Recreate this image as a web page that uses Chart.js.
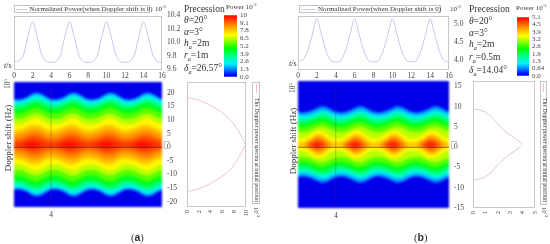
<!DOCTYPE html>
<html><head><meta charset="utf-8">
<script src="https://cdn.jsdelivr.net/npm/chart.js@4"></script>
<style>
html,body{margin:0;padding:0;background:#fff;width:550px;height:244px;overflow:hidden}
#stage{position:absolute;left:0;top:0;width:550px;height:244px;font-family:"Liberation Serif",serif;color:#333;filter:blur(.4px)}
canvas{position:absolute}
.t{position:absolute;white-space:nowrap;line-height:1}
.box{position:absolute;border:1px solid #c4c4c4;box-sizing:border-box}
.samp{position:absolute;height:1px}
sup,sub{font-size:65%;line-height:0}
i{font-style:italic}
</style></head><body><div id="stage"></div>
<script>
// ---------- data ----------
const timeTicks=[0,2,4,6,8,10,12,14,16];
const timeSamples=[0,.5,1,1.5,2,2.5,3,3.5,4,4.5,5,5.5,6,6.5,7,7.5,8,8.5,9,9.5,10,10.5,11,11.5,12,12.5,13,13.5,14,14.5,15,15.5,16];
const powerTimeA=[9.71,9.72,9.80,10.09,10.31,10.09,9.81,9.71,9.70,9.71,9.80,10.09,10.31,10.09,9.81,9.71,9.70,9.71,9.80,10.09,10.31,10.09,9.81,9.71,9.70,9.71,9.80,10.09,10.31,10.09,9.81,9.71,9.70];
const powerTimeB=[3.98,4.00,4.24,4.70,5.16,4.70,4.24,3.98,3.95,3.97,4.24,4.70,5.16,4.70,4.24,3.98,3.95,3.97,4.24,4.70,5.16,4.70,4.24,3.98,3.95,3.97,4.24,4.70,5.16,4.70,4.24,3.98,3.96];
const levels=[0.4,1.2,2,3,4,5,6,6.8,7.6,8.2,8.8,9.3,9.7,10];
const bandA04=[16.2,16.1,16.4,17.2,18.1,18.5,18.0,17.1,16.2,16.1,16.4,17.2,18.1,18.5,18.0,17.1,16.2,16.1,16.4,17.2,18.1,18.5,18.0,17.1,16.2,16.1,16.4,17.2,18.1,18.5,18.0,17.1,16.2];
const bandA12=[15.8,15.7,16.0,16.7,17.7,18.0,17.5,16.6,15.8,15.7,16.0,16.7,17.7,18.0,17.5,16.6,15.8,15.7,16.0,16.7,17.7,18.0,17.5,16.6,15.8,15.7,16.0,16.7,17.7,18.0,17.5,16.6,15.8];
const bandA20=[15.3,15.2,15.5,16.1,17.0,17.3,16.9,16.0,15.3,15.2,15.5,16.1,17.0,17.3,16.9,16.0,15.3,15.2,15.5,16.1,17.0,17.3,16.9,16.0,15.3,15.2,15.5,16.1,17.0,17.3,16.9,16.0,15.3];
const bandA30=[14.2,14.1,14.3,15.0,15.7,16.0,15.6,14.9,14.2,14.1,14.3,15.0,15.7,16.0,15.6,14.9,14.2,14.1,14.3,15.0,15.7,16.0,15.6,14.9,14.2,14.1,14.3,15.0,15.7,16.0,15.6,14.9,14.2];
const bandA40=[12.8,12.8,13.1,13.8,14.5,14.7,14.1,13.3,12.8,12.8,13.1,13.8,14.5,14.7,14.1,13.3,12.8,12.8,13.1,13.8,14.5,14.7,14.1,13.3,12.8,12.8,13.1,13.8,14.5,14.7,14.1,13.3,12.8];
const bandA50=[11.0,11.0,11.3,12.1,12.8,13.0,12.4,11.5,11.0,11.0,11.3,12.1,12.8,13.0,12.4,11.5,11.0,11.0,11.3,12.1,12.8,13.0,12.4,11.5,11.0,11.0,11.3,12.1,12.8,13.0,12.4,11.5,11.0];
const bandA60=[9.0,9.0,9.3,10.1,10.8,11.0,10.4,9.5,9.0,9.0,9.3,10.1,10.8,11.0,10.4,9.5,9.0,9.0,9.3,10.1,10.8,11.0,10.4,9.5,9.0,9.0,9.3,10.1,10.8,11.0,10.4,9.5,9.0];
const bandA68=[7.0,7.0,7.4,8.2,9.0,9.2,8.5,7.6,7.0,7.0,7.4,8.2,9.0,9.2,8.5,7.6,7.0,7.0,7.4,8.2,9.0,9.2,8.5,7.6,7.0,7.0,7.4,8.2,9.0,9.2,8.5,7.6,7.0];
const bandA76=[5.0,5.2,5.6,6.4,6.9,6.9,6.2,5.4,5.0,5.2,5.6,6.4,6.9,6.9,6.2,5.4,5.0,5.2,5.6,6.4,6.9,6.9,6.2,5.4,5.0,5.2,5.6,6.4,6.9,6.9,6.2,5.4,5.0];
const bandA82=[3.6,3.8,4.2,4.9,5.4,5.4,4.8,4.0,3.6,3.8,4.2,4.9,5.4,5.4,4.8,4.0,3.6,3.8,4.2,4.9,5.4,5.4,4.8,4.0,3.6,3.8,4.2,4.9,5.4,5.4,4.8,4.0,3.6];
const bandA88=[2.1,2.3,2.7,3.4,3.9,3.9,3.3,2.5,2.1,2.3,2.7,3.4,3.9,3.9,3.3,2.5,2.1,2.3,2.7,3.4,3.9,3.9,3.3,2.5,2.1,2.3,2.7,3.4,3.9,3.9,3.3,2.5,2.1];
const bandA93=[1.1,1.2,1.6,2.3,2.8,2.7,2.2,1.5,1.1,1.2,1.6,2.3,2.8,2.7,2.2,1.5,1.1,1.2,1.6,2.3,2.8,2.7,2.2,1.5,1.1,1.2,1.6,2.3,2.8,2.7,2.2,1.5,1.1];
const bandA97=[.2,.4,.9,1.5,1.8,1.5,1.0,.5,.2,.4,.9,1.5,1.8,1.5,1.0,.5,.2,.4,.9,1.5,1.8,1.5,1.0,.5,.2,.4,.9,1.5,1.8,1.5,1.0,.5,.2];
const bandA100=[0,0,.1,.6,.9,.5,0,0,0,0,.1,.6,.9,.5,0,0,0,0,.1,.6,.9,.5,0,0,0,0,.1,.6,.9,.5,0,0,0];
const bandB04=[7.9,7.7,7.85,8.2,8.8,9.2,9.05,8.45,7.9,7.7,7.85,8.2,8.8,9.2,9.05,8.45,7.9,7.7,7.85,8.2,8.8,9.2,9.05,8.45,7.9,7.7,7.85,8.2,8.8,9.2,9.05,8.45,7.9];
const bandB12=[7.6,7.4,7.55,7.9,8.4,8.8,8.65,8.1,7.6,7.4,7.55,7.9,8.4,8.8,8.65,8.1,7.6,7.4,7.55,7.9,8.4,8.8,8.65,8.1,7.6,7.4,7.55,7.9,8.4,8.8,8.65,8.1,7.6];
const bandB20=[7.0,6.8,6.9,7.2,7.7,8.0,7.9,7.4,7.0,6.8,6.9,7.2,7.7,8.0,7.9,7.4,7.0,6.8,6.9,7.2,7.7,8.0,7.9,7.4,7.0,6.8,6.9,7.2,7.7,8.0,7.9,7.4,7.0];
const bandB30=[6.15,6.0,6.15,6.45,6.95,7.3,7.2,6.65,6.15,6.0,6.15,6.45,6.95,7.3,7.2,6.65,6.15,6.0,6.15,6.45,6.95,7.3,7.2,6.65,6.15,6.0,6.15,6.45,6.95,7.3,7.2,6.65,6.15];
const bandB40=[5.15,5.05,5.2,5.65,6.1,6.4,6.2,5.65,5.15,5.05,5.2,5.65,6.1,6.4,6.2,5.65,5.15,5.05,5.2,5.65,6.1,6.4,6.2,5.65,5.15,5.05,5.2,5.65,6.1,6.4,6.2,5.65,5.15];
const bandB50=[4.2,4.1,4.3,4.65,5.05,5.3,5.1,4.65,4.2,4.1,4.3,4.65,5.05,5.3,5.1,4.65,4.2,4.1,4.3,4.65,5.05,5.3,5.1,4.65,4.2,4.1,4.3,4.65,5.05,5.3,5.1,4.65,4.2];
const bandB60=[3.05,2.95,3.1,3.55,4.0,4.25,4.0,3.5,3.05,2.95,3.1,3.55,4.0,4.25,4.0,3.5,3.05,2.95,3.1,3.55,4.0,4.25,4.0,3.5,3.05,2.95,3.1,3.55,4.0,4.25,4.0,3.5,3.05];
const bandB68=[1.5,1.5,2.0,2.7,3.25,3.2,2.6,1.8,1.5,1.5,2.0,2.7,3.25,3.2,2.6,1.8,1.5,1.5,2.0,2.7,3.25,3.2,2.6,1.8,1.5,1.5,2.0,2.7,3.25,3.2,2.6,1.8,1.5];
const bandB76=[.4,.5,1.1,1.8,2.4,2.3,1.6,.7,.4,.5,1.1,1.8,2.4,2.3,1.6,.7,.4,.5,1.1,1.8,2.4,2.3,1.6,.7,.4,.5,1.1,1.8,2.4,2.3,1.6,.7,.4];
const bandB82=[0,0,.5,1.2,1.9,1.7,.9,.1,0,0,.5,1.2,1.9,1.7,.9,.1,0,0,.5,1.2,1.9,1.7,.9,.1,0,0,.5,1.2,1.9,1.7,.9,.1,0];
const bandB88=[0,0,.1,.8,1.4,1.1,.3,0,0,0,.1,.8,1.4,1.1,.3,0,0,0,.1,.8,1.4,1.1,.3,0,0,0,.1,.8,1.4,1.1,.3,0,0];
const bandB93=[0,0,0,.4,.9,.6,0,0,0,0,0,.4,.9,.6,0,0,0,0,0,.4,.9,.6,0,0,0,0,0,.4,.9,.6,0,0,0];
const bandB97=[0,0,0,.15,.55,.25,0,0,0,0,0,.15,.55,.25,0,0,0,0,0,.15,.55,.25,0,0,0,0,0,.15,.55,.25,0,0,0];
const bandB100=[0,0,0,0,.2,.05,0,0,0,0,0,0,.2,.05,0,0,0,0,0,0,.2,.05,0,0,0,0,0,0,.2,.05,0,0,0];
const specDopplerA=[16.6,16.4,15.6,13.7,11,8.1,6,4,2,0,-2,-4,-6,-8.1,-11,-13.7,-15.6,-16.4,-16.6];
const specPowerA=[0,.4,2,4,6.1,7.6,8.3,8.9,9.4,9.85,9.4,8.9,8.3,7.6,6.1,4,2,.4,0];
const specDopplerB=[8.4,8.2,7.6,6.6,4.6,2.6,1.4,0,-1.4,-2.6,-4.6,-6.6,-7.6,-8.2,-8.4];
const specPowerB=[.05,.5,1,1.46,2.07,2.8,3.4,3.95,3.4,2.8,2.07,1.46,1,.5,.05];
const dopplerTicksA=[20,15,10,5,0,-5,-10,-15,-20];
const dopplerTicksB=[15,10,5,0,-5,-10,-15];
const cbarLabelsA=["0.0","1.3","2.6","3.9","5.2","6.5","7.8","9.1","10"];
const cbarValuesA=[0,1.3,2.6,3.9,5.2,6.5,7.8,9.1,10.4];
const cbarLabelsB=["0.0","0.64","1.3","1.9","2.6","3.2","3.9","4.5","5.1"];
const cbarValuesB=[0,.64,1.28,1.92,2.56,3.2,3.84,4.48,5.12];
const colorStops=[[0,'#0000e8'],[.04,'#0010ff'],[.12,'#0080ff'],[.21,'#00f0ff'],[.33,'#00ff90'],[.46,'#00ff00'],[.58,'#90ff00'],[.68,'#ffff00'],[.85,'#ff8000'],[1,'#ff0000']];
const BLUE='#0000e8';
// ---------- helpers ----------
const stage=document.getElementById('stage');
function hex(c){return [1,3,5].map(i=>parseInt(c.substr(i,2),16));}
function cmap(v){for(let i=1;i<colorStops.length;i++){if(v<=colorStops[i][0]){const a=colorStops[i-1],b=colorStops[i],f=(v-a[0])/(b[0]-a[0]),A=hex(a[1]),B=hex(b[1]);return 'rgb('+A.map((x,k)=>Math.round(x+(B[k]-x)*f)).join(',')+')';}}return '#ff0000';}
function text(x,y,html,size,extra){const d=document.createElement('div');d.className='t';d.style.cssText='left:'+x+'px;top:'+y+'px;font-size:'+size+'px;'+(extra||'');d.innerHTML=html;stage.appendChild(d);return d;}
function box(x,y,w,h){const d=document.createElement('div');d.className='box';d.style.cssText='left:'+x+'px;top:'+y+'px;width:'+w+'px;height:'+h+'px';stage.appendChild(d);}
function samp(x,y,w,h,c){const d=document.createElement('div');d.className='samp';d.style.cssText='left:'+x+'px;top:'+y+'px;width:'+w+'px;height:'+h+'px;background:'+c;stage.appendChild(d);}
const frame={id:'frame',afterDraw(c,a,o){if(!o.color)return;const g=c.ctx,r=c.chartArea;g.save();g.strokeStyle=o.color;g.lineWidth=1;g.strokeRect(Math.round(r.left)+.5,Math.round(r.top)+.5,Math.round(r.width)-1,Math.round(r.height)-1);g.restore();}};
Chart.register(frame);
Chart.defaults.font.family='"Liberation Serif",serif';
Chart.defaults.color='#444';
Chart.defaults.animation=false;
function mk(L,T,R,B,pad,cfg,blur){
 const c=document.createElement('canvas');const w=R-L+pad[0]+pad[2],h=B-T+pad[1]+pad[3];
 c.width=w;c.height=h;c.style.cssText='left:'+(L-pad[0])+'px;top:'+(T-pad[1])+'px;width:'+w+'px;height:'+h+'px;'+(blur?'filter:blur('+blur+'px);':'');
 stage.appendChild(c);
 cfg.options=Object.assign({responsive:false,maintainAspectRatio:false,layout:{padding:{left:pad[0],top:pad[1],right:0,bottom:0}}},cfg.options);
 return new Chart(c,cfg);
}
const tickFont={size:7.5};
const GRID='#b5b5b5';
function lineChart(L,R,ymin,ymax,yt,vals,lbl){
 mk(L,14,R,69,[10,6,24,14],{type:'line',data:{datasets:[{data:timeSamples.map((t,i)=>({x:t,y:vals[i]})),borderColor:'#c6c6ec',borderWidth:1,pointRadius:0,tension:.25}]},
 options:{plugins:{legend:{display:false},frame:{color:'#c8c8c8'},tooltip:{enabled:false}},scales:{
  x:{type:'linear',min:0,max:16,grid:{display:false,drawTicks:true,tickLength:2,tickColor:GRID},border:{display:false},afterBuildTicks:s=>{s.ticks=timeTicks.map(v=>({value:v}));},ticks:{font:tickFont,padding:1,maxRotation:0},afterFit:s=>{s.height=14;}},
  y:{position:'right',min:ymin,max:ymax,grid:{display:false,tickLength:2},border:{display:false},afterBuildTicks:s=>{s.ticks=yt.map(v=>({value:v}));},ticks:{font:tickFont,padding:3,callback:v=>lbl(v)},afterFit:s=>{s.width=24;}}
 }}});
}
function heat(L,T,R,B,lim,ticks,bands){
 const ds=[];
 const pts=a=>timeSamples.map((t,i)=>({x:t,y:a[i]}));
 const fullRange=[lim,lim];
 for(let k=bands.length-1;k>=0;k--){
  const v=(levels[k]+(k+1<levels.length?levels[k+1]:10.4))/2/10.4;
  const idx=ds.length;
  ds.push({data:pts(bands[k]),fill:idx+1,backgroundColor:cmap(v),borderWidth:0,borderColor:'transparent',pointRadius:0,cubicInterpolationMode:'monotone'});
  ds.push({data:pts(bands[k].map(x=>-x)),fill:false,borderWidth:0,borderColor:'transparent',pointRadius:0,cubicInterpolationMode:'monotone'});
 }
 const idx=ds.length;
 ds.push({data:[{x:0,y:fullRange[0]},{x:16,y:fullRange[1]}],fill:idx+1,backgroundColor:BLUE,borderWidth:0,pointRadius:0});
 ds.push({data:[{x:0,y:-fullRange[0]},{x:16,y:-fullRange[1]}],fill:false,borderWidth:0,pointRadius:0});
 const hidden={display:false};
 // colour field, softened like the source raster
 mk(L,T,R,B,[4,4,4,4],{type:'line',data:{datasets:ds},options:{layout:{padding:{left:4,top:4,right:4,bottom:4}},plugins:{legend:hidden,tooltip:{enabled:false}},scales:{x:{type:'linear',min:0,max:16,display:false},y:{min:-lim,max:lim,display:false}}}},0.9);
 // cursor lines and axes
 const over=[{data:[{x:4,y:-lim},{x:4,y:lim}],borderColor:'rgba(120,20,80,.28)',borderWidth:1,pointRadius:0,fill:false},
             {data:[{x:0,y:0},{x:16,y:0}],borderColor:'rgba(70,10,10,.6)',borderWidth:1,pointRadius:0,fill:false}];
 mk(L,T,R,B,[4,2,22,12],{type:'line',data:{datasets:over},options:{plugins:{legend:hidden,tooltip:{enabled:false}},scales:{
  x:{type:'linear',min:0,max:16,grid:{display:false,tickLength:2},border:{display:false},afterBuildTicks:s=>{s.ticks=[{value:4}];},ticks:{font:tickFont,padding:2,maxRotation:0},afterFit:s=>{s.height=12;}},
  y:{position:'right',min:-lim,max:lim,grid:{display:false,tickLength:2},border:{display:false},afterBuildTicks:s=>{s.ticks=ticks.map(v=>({value:v}));},ticks:{font:tickFont,padding:3},afterFit:s=>{s.width=22;}}
 }}});
}
function spec(L,T,R,B,lim,ticks,pmax,pstep,P,D){
 const xt=[];for(let v=0;v<=pmax;v+=pstep)xt.push(v);
 mk(L,T,R,B,[5,2,6,12],{type:'scatter',data:{datasets:[{data:D.map((f,i)=>({x:P[i],y:f})),showLine:true,borderColor:'#f0c0c4',borderWidth:1,pointRadius:0,tension:.2}]},
 options:{plugins:{legend:{display:false},tooltip:{enabled:false},frame:{color:'#c8c8c8'}},scales:{
  x:{type:'linear',min:0,max:pmax,grid:{display:false,tickLength:2},border:{display:false},afterBuildTicks:s=>{s.ticks=xt.map(v=>({value:v}));},ticks:{font:{size:6.5},padding:1,minRotation:90,maxRotation:90},afterFit:s=>{s.height=12;}},
  y:{min:-lim,max:lim,grid:{display:false,tickLength:2,tickColor:GRID},border:{display:false},afterBuildTicks:s=>{s.ticks=ticks.map(v=>({value:v}));},ticks:{display:false},afterFit:s=>{s.width=5;}}
 }}});
}
function cbar(L,T,R,B,vals,labels){
 const mx=vals[vals.length-1];
 mk(L,T,R,B,[1,4,18,4],{type:'bar',data:{labels:['Power'],datasets:[{data:[mx],barPercentage:1,categoryPercentage:1,backgroundColor:c=>{const a=c.chart.chartArea;if(!a)return BLUE;const g=c.chart.ctx.createLinearGradient(0,a.bottom,0,a.top);colorStops.forEach(s=>g.addColorStop(s[0],s[1]));return g;}}]},
 options:{plugins:{legend:{display:false},tooltip:{enabled:false}},layout:{padding:{left:1,top:4,right:0,bottom:4}},scales:{
  x:{display:false},
  y:{position:'right',min:0,max:mx,grid:{display:false,tickLength:2,tickColor:'#888'},border:{display:false},afterBuildTicks:s=>{s.ticks=vals.map(v=>({value:v}));},ticks:{font:{size:7},padding:1,autoSkip:false,callback:v=>labels[vals.findIndex(x=>Math.abs(x-v)<1e-6)]},afterFit:s=>{s.width=18;}}
 }}});
}
// ---------- panel a ----------
lineChart(14,162,9.6,10.4,[9.6,9.8,10,10.2,10.4],powerTimeA,v=>v.toFixed(1));
heat(14,82,162,207,22,dopplerTicksA,[bandA04,bandA12,bandA20,bandA30,bandA40,bandA50,bandA60,bandA68,bandA76,bandA82,bandA88,bandA93,bandA97,bandA100]);
spec(182,82,249,207,22,dopplerTicksA,10,2,specPowerA,specDopplerA);
cbar(224,14,237,78,cbarValuesA,cbarLabelsA);
// ---------- panel b ----------
lineChart(298,449,3.75,5.25,[4,4.5,5],powerTimeB,v=>v.toFixed(1));
heat(298,81,449,208,15,dopplerTicksB,[bandB04,bandB12,bandB20,bandB30,bandB40,bandB50,bandB60,bandB68,bandB76,bandB82,bandB88,bandB93,bandB97,bandB100]);
spec(468,81,538,208,15,dopplerTicksB,5,1,specPowerB,specDopplerB);
cbar(517,16,529,77,cbarValuesB,cbarLabelsB);
// ---------- annotations ----------
const legendText='Normalized Power(when Doppler shift is 0)';
box(14,5,136,8);samp(16,9,11,1,'#c8c8ec');text(29.5,5.5,legendText,7);
box(299,5,142,8);samp(302,9,14,1,'#c8c8ec');text(318,5.5,legendText,7);
text(155,6,'10<sup>-3</sup>',7);text(450,6,'10<sup>-3</sup>',7);
text(4,62,'<i>t</i>/s',8);text(289,60,'<i>t</i>/s',8);
function params(x,ys,r,d){
 text(x,ys[0],'Precession',9.5);
 text(x,ys[1],'<i>θ</i>=20°',9.5);text(x,ys[2],'<i>α</i>=3°',9.5);
 text(x,ys[3],'<i>h<sub>a</sub></i>=2m',9.5);text(x,ys[4],'<i>r<sub>a</sub></i>='+r,9.5);
 text(x,ys[5],'<i>δ<sub>a</sub></i>='+d+'°',9.5);
}
params(184,[5,16,28,39,51,64],'1m','26.57');
params(469,[5,17,29,40,53,66],'0.5m','14.04');
text(226,4,'Power 10<sup>-3</sup>',7);text(516,5,'Power 10<sup>-3</sup>',7);
function vtext(cx,cy,html,size,deg,extra){const d=text(cx,cy,html,size,'transform:translate(-50%,-50%) rotate('+deg+'deg);'+(extra||''));return d;}
vtext(8,138,'Doppler shift (Hz)',9,-90);vtext(8,84,'10<sup>5</sup>',7.5,-90);
vtext(293,141,'Doppler shift (Hz)',9,-90);vtext(293,88,'10<sup>5</sup>',7.5,-90);
box(164,141,6,8);box(451,141,6,8);
const specText='The Doppler power spectra at initial position';
box(252,82,8,122);samp(256,84,1,9,'#f0c0c4');vtext(256,150,specText,5.8,90);
box(540,81,7,124);samp(543,83,1,9,'#f0c0c4');vtext(543.5,150,specText,5.8,90);
vtext(256,212,'10<sup>-3</sup>',6.5,90);vtext(544,212,'10<sup>-3</sup>',6.5,90);
text(131,232,'(<b style="font-family:\'Liberation Sans\'">a</b>)',10.5);
text(414,232,'(<b style="font-family:\'Liberation Sans\'">b</b>)',10.5);
</script></body></html>
